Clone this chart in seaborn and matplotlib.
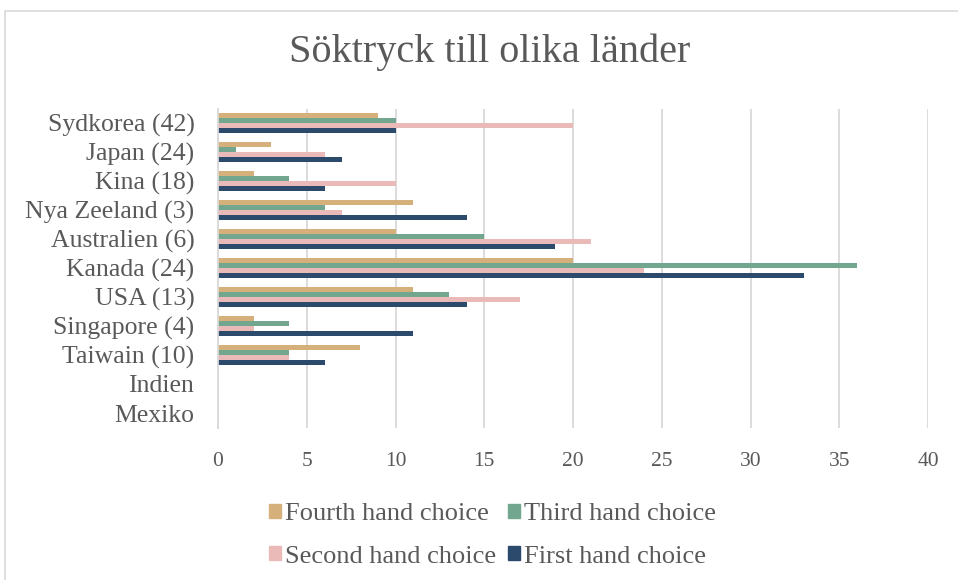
import pandas as pd
import seaborn as sns
import matplotlib.pyplot as plt
from matplotlib.patches import Rectangle

countries = ["Sydkorea (42)", "Japan (24)", "Kina (18)", "Nya Zeeland (3)", "Australien (6)",
             "Kanada (24)", "USA (13)", "Singapore (4)", "Taiwain (10)", "Indien", "Mexiko"]
fourth = [9, 3, 2, 11, 10, 20, 11, 2, 8, 0, 0]
third = [10, 1, 4, 6, 15, 36, 13, 4, 4, 0, 0]
second = [20, 6, 10, 7, 21, 24, 17, 2, 4, 0, 0]
first = [10, 7, 6, 14, 19, 33, 14, 11, 6, 0, 0]

series = ["Fourth hand choice", "Third hand choice", "Second hand choice", "First hand choice"]
colors = ["#D6B07A", "#72A68E", "#E9BAB8", "#2C4A6B"]

rows = []
for name, vals in zip(series, [fourth, third, second, first]):
    for c, v in zip(countries, vals):
        rows.append({"country": c, "choice": name, "value": v})
df = pd.DataFrame(rows)

sns.set_theme(style="white")
plt.rcParams['font.family'] = ['Liberation Serif', 'DejaVu Serif']
text_col = "#595959"

fig = plt.figure(figsize=(9.58, 5.8), dpi=100)
ax = fig.add_axes([218 / 958, 1 - 427.5 / 580, 710 / 958, 319 / 580])

sns.barplot(data=df, y="country", x="value", hue="choice", hue_order=series,
            palette=colors, orient="h", width=0.72, ax=ax, legend=False,
            saturation=1, errorbar=None, linewidth=0)

ax.set_xlim(0, 40)
ax.set_xticks(range(0, 41, 5))
ax.set_xlabel("")
ax.set_ylabel("")
ax.grid(axis="x", color="#D9D9D9", linewidth=1.3)
ax.set_axisbelow(True)
for s in ["top", "right", "bottom"]:
    ax.spines[s].set_visible(False)
ax.spines["left"].set_color("#D9D9D9")
ax.spines["left"].set_linewidth(1.3)
ax.tick_params(axis="x", length=0, pad=18, labelsize=15.5, labelcolor=text_col)
ax.tick_params(axis="y", length=0, pad=17, labelsize=18.5, labelcolor=text_col)

fig.text(490 / 958, 1 - 52 / 580, "Söktryck till olika länder", ha="center", va="center",
         fontsize=29, color=text_col)

handles = [Rectangle((0, 0), 1, 1, color=c) for c in colors]
order = [0, 2, 1, 3]
fig.legend([handles[i] for i in order], [series[i] for i in order], ncol=2,
           loc="upper left", bbox_to_anchor=(269 / 958, 1 - 503 / 580), frameon=False,
           fontsize=19, labelcolor=text_col, handlelength=0.45, handleheight=0.45,
           handletextpad=0.15, columnspacing=0.45, labelspacing=0.78,
           borderpad=0, borderaxespad=0)

fig.patches.append(Rectangle((5 / 958, -0.05), 1.1, 1 - 11 / 580 + 0.05,
                             transform=fig.transFigure, fill=False,
                             edgecolor="#D9D9D9", linewidth=1.2))

fig.savefig("out.png", dpi=100)
